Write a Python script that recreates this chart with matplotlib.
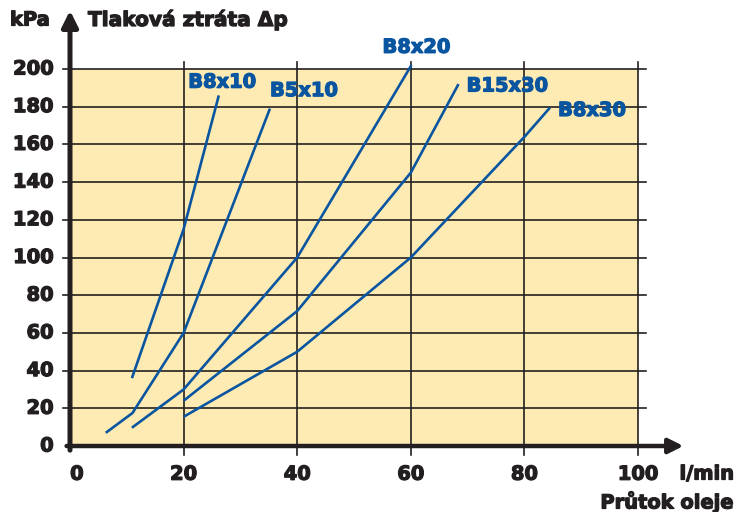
import matplotlib
matplotlib.use("Agg")
import matplotlib.pyplot as plt
import matplotlib.patheffects as pe

# ---- data ----
series_names = ["B8x10", "B5x10", "B8x20", "B15x30", "B8x30"]
b8x10_x = [10.9, 20, 26.2]
b8x10_y = [36, 115, 186]
b5x10_x = [6.3, 11, 20, 35.2]
b5x10_y = [7, 17.5, 60, 179]
b8x20_x = [10.9, 20, 40, 60.1]
b8x20_y = [9.7, 30, 100, 202]
b15x30_x = [20, 40, 60, 68.4]
b15x30_y = [24, 71.6, 145, 192]
b8x30_x = [20, 40, 60, 80, 84.5]
b8x30_y = [15.5, 50, 100, 164, 179.5]
label_pos = {"B8x10": (26.8, 193), "B5x10": (41.2, 188.5), "B8x20": (61, 211.5),
             "B15x30": (77, 191), "B8x30": (91.9, 178)}

x_ticks = [0, 20, 40, 60, 80, 100]
y_ticks = [0, 20, 40, 60, 80, 100, 120, 140, 160, 180, 200]

BLUE = "#0a55a0"
DARK = "#231f20"
YELLOW = "#feebb4"
FONT = "DejaVu Sans"


def heavy(color):
    return [pe.withStroke(linewidth=0.9, foreground=color)]


fig = plt.figure(figsize=(7.37, 5.12), dpi=100)
ax = fig.add_axes([70/737, 1-446/512, 568/737, 377/512])
ax.set_xlim(0, 100)
ax.set_ylim(0, 200)
ax.set_facecolor(YELLOW)
for s in ax.spines.values():
    s.set_visible(False)
ax.set_xticks([])
ax.set_yticks([])

# grid lines (extending a bit beyond the plot)
for yv in y_ticks[1:]:
    ax.plot([-1.3, 101.4], [yv, yv], color=DARK, lw=1.2, clip_on=False, zorder=1)
for xv in x_ticks[1:]:
    ax.plot([xv, xv], [-4.8, 203.5], color=DARK, lw=1.2, clip_on=False, zorder=1)

# axes with arrows
ax.annotate("", xy=(0, 231), xytext=(0, -2.2), xycoords="data",
            arrowprops=dict(arrowstyle="-|>", lw=3.6, color=DARK, mutation_scale=24,
                            shrinkA=0, shrinkB=0), annotation_clip=False, zorder=5)
ax.annotate("", xy=(108, 0), xytext=(-0.6, 0), xycoords="data",
            arrowprops=dict(arrowstyle="-|>", lw=3.2, color=DARK, mutation_scale=22,
                            shrinkA=0, shrinkB=0), annotation_clip=False, zorder=5)

# series
all_x = [b8x10_x, b5x10_x, b8x20_x, b15x30_x, b8x30_x]
all_y = [b8x10_y, b5x10_y, b8x20_y, b15x30_y, b8x30_y]
for name, xs, ys in zip(series_names, all_x, all_y):
    ax.plot(xs, ys, color=BLUE, lw=1.9, clip_on=False, zorder=3, solid_capstyle="butt")
    lx, ly = label_pos[name]
    ax.text(lx, ly, name, color=BLUE, fontsize=14, fontweight="bold", family=FONT,
            ha="center", va="center", zorder=4, path_effects=heavy(BLUE))

# tick labels
for yv in y_ticks:
    ax.text(-2.9, yv, str(yv), ha="right", va="center", fontsize=14,
            fontweight="bold", family=FONT, color=DARK, path_effects=heavy(DARK))
for xv in x_ticks:
    ax.text(xv if xv else 1.2, -15, str(xv), ha="center", va="center", fontsize=14,
            fontweight="bold", family=FONT, color=DARK, path_effects=heavy(DARK))

# axis titles
fig.text(10/737, 1-20/512, "kPa", ha="left", va="center", fontsize=14,
         fontweight="bold", family=FONT, color=DARK, path_effects=heavy(DARK))
fig.text(88/737, 1-20/512, "Tlaková ztráta Δp", ha="left", va="center", fontsize=14.5,
         fontweight="bold", family=FONT, color=DARK, path_effects=heavy(DARK))
fig.text(734/737, 1-474/512, "l/min", ha="right", va="center", fontsize=14,
         fontweight="bold", family=FONT, color=DARK, path_effects=heavy(DARK))
fig.text(734/737, 1-502/512, "Průtok oleje", ha="right", va="center", fontsize=14,
         fontweight="bold", family=FONT, color=DARK, path_effects=heavy(DARK))

fig.savefig("out.png", dpi=100, facecolor="white")
